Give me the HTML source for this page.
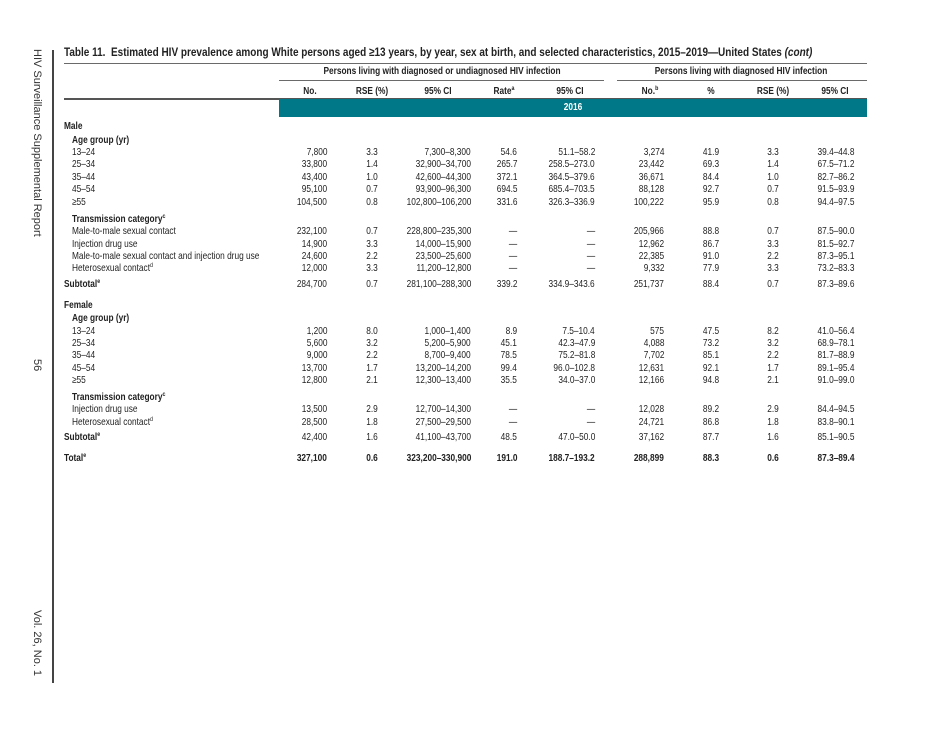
<!DOCTYPE html>
<html>
<head>
<meta charset="utf-8">
<style>
html,body{margin:0;padding:0;}
body{width:950px;height:733px;background:#fff;position:relative;overflow:hidden;}
.t{position:absolute;top:0;white-space:nowrap;font-family:"Liberation Sans",Arial,sans-serif;font-size:10.2px;line-height:12px;color:#222;}
.l{transform:scaleX(.815);transform-origin:0 50%;}
.r{transform:scaleX(.815);transform-origin:100% 50%;}
.c{transform:translateX(-50%) scaleX(.815);}
.b{font-weight:bold;}
sup{font-size:6.5px;line-height:0;vertical-align:4px;}
.row{position:absolute;left:0;width:950px;height:12px;}
.hl{position:absolute;background:#6a6a6a;height:1px;}
.side{position:absolute;font-family:"Liberation Sans",Arial,sans-serif;font-size:11px;line-height:14px;color:#333;writing-mode:vertical-rl;white-space:nowrap;}
</style>
</head>
<body>

<!-- sidebar -->
<div class="side" style="left:30px;top:49px;">HIV Surveillance Supplemental Report</div>
<div class="side" style="left:30px;top:359px;">56</div>
<div class="side" style="left:30px;top:610px;">Vol. 26, No. 1</div>
<div style="position:absolute;left:52px;top:50px;width:2px;height:633px;background:#444;"></div>

<!-- title -->
<div class="row" style="top:45px;height:14px;">
  <div class="t b" style="left:64px;font-size:12px;line-height:14px;transform:scaleX(.832);transform-origin:0 50%;">Table 11.&nbsp; Estimated HIV prevalence among White persons aged ≥13 years, by year, sex at birth, and selected characteristics, 2015–2019—United States <i>(cont)</i></div>
</div>
<div class="hl" style="left:64px;top:63px;width:803px;"></div>

<!-- group headers -->
<div class="row" style="top:66px;">
  <div class="t c b" style="left:442px;">Persons living with diagnosed or undiagnosed HIV infection</div>
  <div class="t c b" style="left:741px;">Persons living with diagnosed HIV infection</div>
</div>
<div class="hl" style="left:279px;top:80px;width:325px;"></div>
<div class="hl" style="left:617px;top:80px;width:250px;"></div>

<!-- column headers -->
<div class="row" style="top:86px;">
  <div class="t c b" style="left:310px;">No.</div>
  <div class="t c b" style="left:372px;">RSE (%)</div>
  <div class="t c b" style="left:438px;">95% CI</div>
  <div class="t c b" style="left:504px;">Rate<sup>a</sup></div>
  <div class="t c b" style="left:570px;">95% CI</div>
  <div class="t c b" style="left:650px;">No.<sup>b</sup></div>
  <div class="t c b" style="left:711px;">%</div>
  <div class="t c b" style="left:773px;">RSE (%)</div>
  <div class="t c b" style="left:835px;">95% CI</div>
</div>
<div class="hl" style="left:64px;top:98px;width:803px;height:1.5px;background:#555;"></div>
<div style="position:absolute;left:279px;top:99px;width:588px;height:18px;background:#017887;"></div>
<div class="row" style="top:102px;">
  <div class="t c b" style="left:573px;color:#fff;">2016</div>
</div>

<!-- Male -->
<div class="row" style="top:121px;"><div class="t l b" style="left:64px;">Male</div></div>
<div class="row" style="top:135px;"><div class="t l b" style="left:72px;">Age group (yr)</div></div>

<div class="row" style="top:147px;">
  <div class="t l" style="left:72px;">13–24</div>
  <div class="t r" style="right:623px;">7,800</div>
  <div class="t c" style="left:372px;">3.3</div>
  <div class="t r" style="right:479px;">7,300–8,300</div>
  <div class="t r" style="right:433px;">54.6</div>
  <div class="t r" style="right:355px;">51.1–58.2</div>
  <div class="t r" style="right:286px;">3,274</div>
  <div class="t c" style="left:711px;">41.9</div>
  <div class="t c" style="left:773px;">3.3</div>
  <div class="t c" style="left:836px;">39.4–44.8</div>
</div>
<div class="row" style="top:159px;">
  <div class="t l" style="left:72px;">25–34</div>
  <div class="t r" style="right:623px;">33,800</div>
  <div class="t c" style="left:372px;">1.4</div>
  <div class="t r" style="right:479px;">32,900–34,700</div>
  <div class="t r" style="right:433px;">265.7</div>
  <div class="t r" style="right:355px;">258.5–273.0</div>
  <div class="t r" style="right:286px;">23,442</div>
  <div class="t c" style="left:711px;">69.3</div>
  <div class="t c" style="left:773px;">1.4</div>
  <div class="t c" style="left:836px;">67.5–71.2</div>
</div>
<div class="row" style="top:172px;">
  <div class="t l" style="left:72px;">35–44</div>
  <div class="t r" style="right:623px;">43,400</div>
  <div class="t c" style="left:372px;">1.0</div>
  <div class="t r" style="right:479px;">42,600–44,300</div>
  <div class="t r" style="right:433px;">372.1</div>
  <div class="t r" style="right:355px;">364.5–379.6</div>
  <div class="t r" style="right:286px;">36,671</div>
  <div class="t c" style="left:711px;">84.4</div>
  <div class="t c" style="left:773px;">1.0</div>
  <div class="t c" style="left:836px;">82.7–86.2</div>
</div>
<div class="row" style="top:184px;">
  <div class="t l" style="left:72px;">45–54</div>
  <div class="t r" style="right:623px;">95,100</div>
  <div class="t c" style="left:372px;">0.7</div>
  <div class="t r" style="right:479px;">93,900–96,300</div>
  <div class="t r" style="right:433px;">694.5</div>
  <div class="t r" style="right:355px;">685.4–703.5</div>
  <div class="t r" style="right:286px;">88,128</div>
  <div class="t c" style="left:711px;">92.7</div>
  <div class="t c" style="left:773px;">0.7</div>
  <div class="t c" style="left:836px;">91.5–93.9</div>
</div>
<div class="row" style="top:197px;">
  <div class="t l" style="left:72px;">≥55</div>
  <div class="t r" style="right:623px;">104,500</div>
  <div class="t c" style="left:372px;">0.8</div>
  <div class="t r" style="right:479px;">102,800–106,200</div>
  <div class="t r" style="right:433px;">331.6</div>
  <div class="t r" style="right:355px;">326.3–336.9</div>
  <div class="t r" style="right:286px;">100,222</div>
  <div class="t c" style="left:711px;">95.9</div>
  <div class="t c" style="left:773px;">0.8</div>
  <div class="t c" style="left:836px;">94.4–97.5</div>
</div>

<div class="row" style="top:214px;"><div class="t l b" style="left:72px;">Transmission category<sup>c</sup></div></div>
<div class="row" style="top:226px;">
  <div class="t l" style="left:72px;">Male-to-male sexual contact</div>
  <div class="t r" style="right:623px;">232,100</div>
  <div class="t c" style="left:372px;">0.7</div>
  <div class="t r" style="right:479px;">228,800–235,300</div>
  <div class="t r" style="right:433px;">—</div>
  <div class="t r" style="right:355px;">—</div>
  <div class="t r" style="right:286px;">205,966</div>
  <div class="t c" style="left:711px;">88.8</div>
  <div class="t c" style="left:773px;">0.7</div>
  <div class="t c" style="left:836px;">87.5–90.0</div>
</div>
<div class="row" style="top:239px;">
  <div class="t l" style="left:72px;">Injection drug use</div>
  <div class="t r" style="right:623px;">14,900</div>
  <div class="t c" style="left:372px;">3.3</div>
  <div class="t r" style="right:479px;">14,000–15,900</div>
  <div class="t r" style="right:433px;">—</div>
  <div class="t r" style="right:355px;">—</div>
  <div class="t r" style="right:286px;">12,962</div>
  <div class="t c" style="left:711px;">86.7</div>
  <div class="t c" style="left:773px;">3.3</div>
  <div class="t c" style="left:836px;">81.5–92.7</div>
</div>
<div class="row" style="top:251px;">
  <div class="t l" style="left:72px;">Male-to-male sexual contact and injection drug use</div>
  <div class="t r" style="right:623px;">24,600</div>
  <div class="t c" style="left:372px;">2.2</div>
  <div class="t r" style="right:479px;">23,500–25,600</div>
  <div class="t r" style="right:433px;">—</div>
  <div class="t r" style="right:355px;">—</div>
  <div class="t r" style="right:286px;">22,385</div>
  <div class="t c" style="left:711px;">91.0</div>
  <div class="t c" style="left:773px;">2.2</div>
  <div class="t c" style="left:836px;">87.3–95.1</div>
</div>
<div class="row" style="top:263px;">
  <div class="t l" style="left:72px;">Heterosexual contact<sup>d</sup></div>
  <div class="t r" style="right:623px;">12,000</div>
  <div class="t c" style="left:372px;">3.3</div>
  <div class="t r" style="right:479px;">11,200–12,800</div>
  <div class="t r" style="right:433px;">—</div>
  <div class="t r" style="right:355px;">—</div>
  <div class="t r" style="right:286px;">9,332</div>
  <div class="t c" style="left:711px;">77.9</div>
  <div class="t c" style="left:773px;">3.3</div>
  <div class="t c" style="left:836px;">73.2–83.3</div>
</div>
<div class="row" style="top:279px;">
  <div class="t l b" style="left:64px;">Subtotal<sup>e</sup></div>
  <div class="t r" style="right:623px;">284,700</div>
  <div class="t c" style="left:372px;">0.7</div>
  <div class="t r" style="right:479px;">281,100–288,300</div>
  <div class="t r" style="right:433px;">339.2</div>
  <div class="t r" style="right:355px;">334.9–343.6</div>
  <div class="t r" style="right:286px;">251,737</div>
  <div class="t c" style="left:711px;">88.4</div>
  <div class="t c" style="left:773px;">0.7</div>
  <div class="t c" style="left:836px;">87.3–89.6</div>
</div>

<!-- Female -->
<div class="row" style="top:300px;"><div class="t l b" style="left:64px;">Female</div></div>
<div class="row" style="top:313px;"><div class="t l b" style="left:72px;">Age group (yr)</div></div>

<div class="row" style="top:325.5px;">
  <div class="t l" style="left:72px;">13–24</div>
  <div class="t r" style="right:623px;">1,200</div>
  <div class="t c" style="left:372px;">8.0</div>
  <div class="t r" style="right:479px;">1,000–1,400</div>
  <div class="t r" style="right:433px;">8.9</div>
  <div class="t r" style="right:355px;">7.5–10.4</div>
  <div class="t r" style="right:286px;">575</div>
  <div class="t c" style="left:711px;">47.5</div>
  <div class="t c" style="left:773px;">8.2</div>
  <div class="t c" style="left:836px;">41.0–56.4</div>
</div>
<div class="row" style="top:337.5px;">
  <div class="t l" style="left:72px;">25–34</div>
  <div class="t r" style="right:623px;">5,600</div>
  <div class="t c" style="left:372px;">3.2</div>
  <div class="t r" style="right:479px;">5,200–5,900</div>
  <div class="t r" style="right:433px;">45.1</div>
  <div class="t r" style="right:355px;">42.3–47.9</div>
  <div class="t r" style="right:286px;">4,088</div>
  <div class="t c" style="left:711px;">73.2</div>
  <div class="t c" style="left:773px;">3.2</div>
  <div class="t c" style="left:836px;">68.9–78.1</div>
</div>
<div class="row" style="top:350px;">
  <div class="t l" style="left:72px;">35–44</div>
  <div class="t r" style="right:623px;">9,000</div>
  <div class="t c" style="left:372px;">2.2</div>
  <div class="t r" style="right:479px;">8,700–9,400</div>
  <div class="t r" style="right:433px;">78.5</div>
  <div class="t r" style="right:355px;">75.2–81.8</div>
  <div class="t r" style="right:286px;">7,702</div>
  <div class="t c" style="left:711px;">85.1</div>
  <div class="t c" style="left:773px;">2.2</div>
  <div class="t c" style="left:836px;">81.7–88.9</div>
</div>
<div class="row" style="top:362.5px;">
  <div class="t l" style="left:72px;">45–54</div>
  <div class="t r" style="right:623px;">13,700</div>
  <div class="t c" style="left:372px;">1.7</div>
  <div class="t r" style="right:479px;">13,200–14,200</div>
  <div class="t r" style="right:433px;">99.4</div>
  <div class="t r" style="right:355px;">96.0–102.8</div>
  <div class="t r" style="right:286px;">12,631</div>
  <div class="t c" style="left:711px;">92.1</div>
  <div class="t c" style="left:773px;">1.7</div>
  <div class="t c" style="left:836px;">89.1–95.4</div>
</div>
<div class="row" style="top:375px;">
  <div class="t l" style="left:72px;">≥55</div>
  <div class="t r" style="right:623px;">12,800</div>
  <div class="t c" style="left:372px;">2.1</div>
  <div class="t r" style="right:479px;">12,300–13,400</div>
  <div class="t r" style="right:433px;">35.5</div>
  <div class="t r" style="right:355px;">34.0–37.0</div>
  <div class="t r" style="right:286px;">12,166</div>
  <div class="t c" style="left:711px;">94.8</div>
  <div class="t c" style="left:773px;">2.1</div>
  <div class="t c" style="left:836px;">91.0–99.0</div>
</div>

<div class="row" style="top:392px;"><div class="t l b" style="left:72px;">Transmission category<sup>c</sup></div></div>
<div class="row" style="top:404px;">
  <div class="t l" style="left:72px;">Injection drug use</div>
  <div class="t r" style="right:623px;">13,500</div>
  <div class="t c" style="left:372px;">2.9</div>
  <div class="t r" style="right:479px;">12,700–14,300</div>
  <div class="t r" style="right:433px;">—</div>
  <div class="t r" style="right:355px;">—</div>
  <div class="t r" style="right:286px;">12,028</div>
  <div class="t c" style="left:711px;">89.2</div>
  <div class="t c" style="left:773px;">2.9</div>
  <div class="t c" style="left:836px;">84.4–94.5</div>
</div>
<div class="row" style="top:417px;">
  <div class="t l" style="left:72px;">Heterosexual contact<sup>d</sup></div>
  <div class="t r" style="right:623px;">28,500</div>
  <div class="t c" style="left:372px;">1.8</div>
  <div class="t r" style="right:479px;">27,500–29,500</div>
  <div class="t r" style="right:433px;">—</div>
  <div class="t r" style="right:355px;">—</div>
  <div class="t r" style="right:286px;">24,721</div>
  <div class="t c" style="left:711px;">86.8</div>
  <div class="t c" style="left:773px;">1.8</div>
  <div class="t c" style="left:836px;">83.8–90.1</div>
</div>
<div class="row" style="top:432px;">
  <div class="t l b" style="left:64px;">Subtotal<sup>e</sup></div>
  <div class="t r" style="right:623px;">42,400</div>
  <div class="t c" style="left:372px;">1.6</div>
  <div class="t r" style="right:479px;">41,100–43,700</div>
  <div class="t r" style="right:433px;">48.5</div>
  <div class="t r" style="right:355px;">47.0–50.0</div>
  <div class="t r" style="right:286px;">37,162</div>
  <div class="t c" style="left:711px;">87.7</div>
  <div class="t c" style="left:773px;">1.6</div>
  <div class="t c" style="left:836px;">85.1–90.5</div>
</div>
<div class="row" style="top:453px;">
  <div class="t l b" style="left:64px;">Total<sup>e</sup></div>
  <div class="t r b" style="right:623px;">327,100</div>
  <div class="t c b" style="left:372px;">0.6</div>
  <div class="t r b" style="right:479px;">323,200–330,900</div>
  <div class="t r b" style="right:433px;">191.0</div>
  <div class="t r b" style="right:355px;">188.7–193.2</div>
  <div class="t r b" style="right:286px;">288,899</div>
  <div class="t c b" style="left:711px;">88.3</div>
  <div class="t c b" style="left:773px;">0.6</div>
  <div class="t c b" style="left:836px;">87.3–89.4</div>
</div>

</body>
</html>
